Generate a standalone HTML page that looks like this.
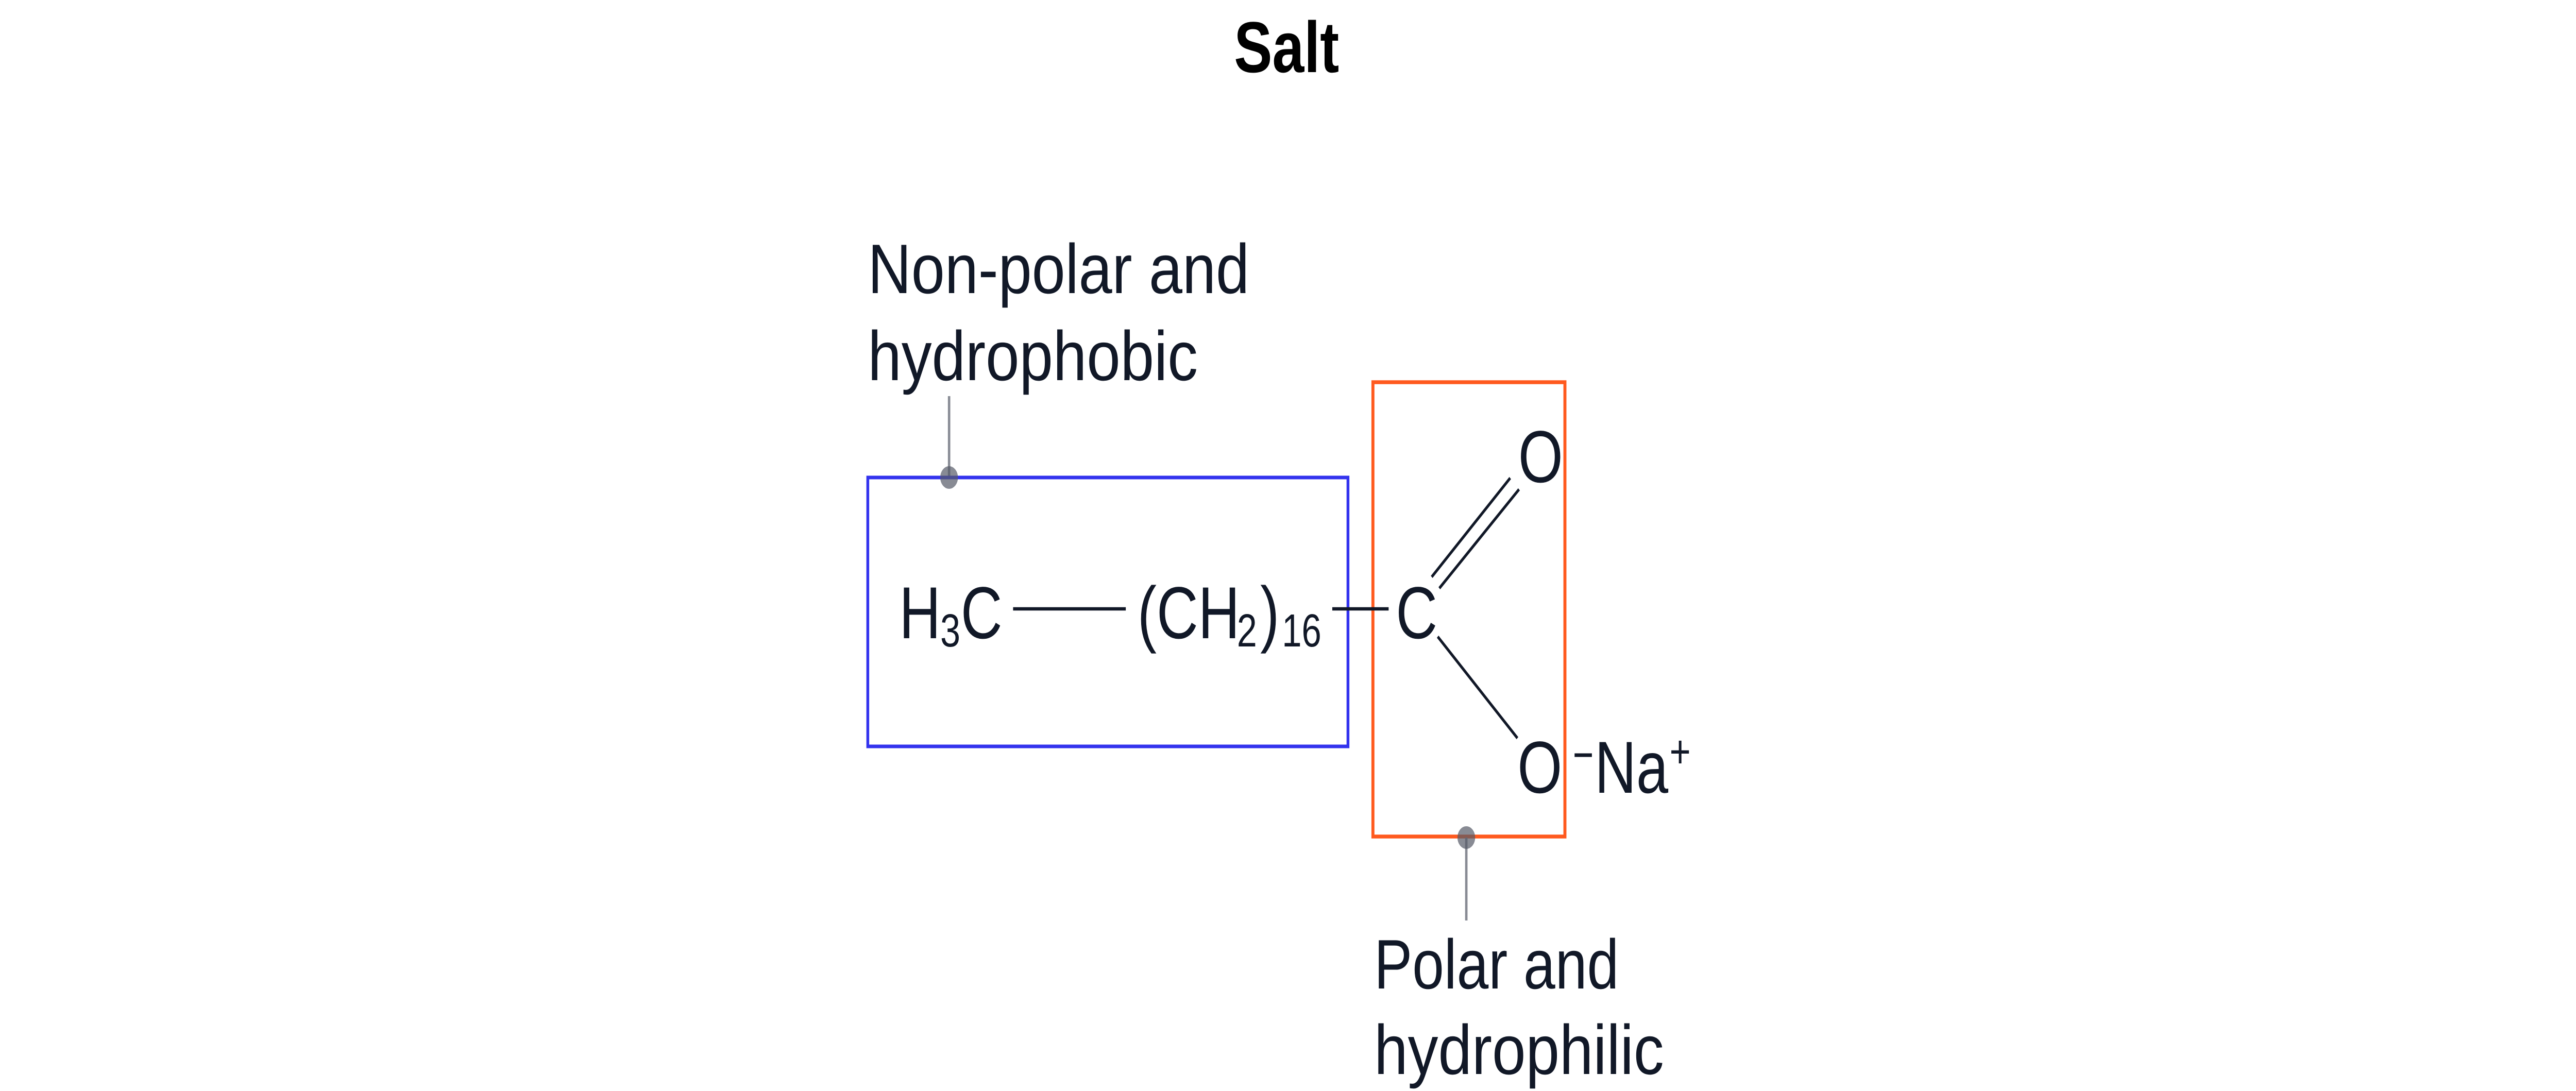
<!DOCTYPE html>
<html><head><meta charset="utf-8"><style>
html,body{margin:0;padding:0;background:#fff;width:100%;height:100%;overflow:hidden;}
svg{display:block;position:fixed;left:0;top:0;width:100%;height:100%;}
text{font-family:"Liberation Sans",Arial,sans-serif;fill:#111827;}
</style></head><body>
<svg viewBox="0 0 6400 2118" preserveAspectRatio="none" xmlns="http://www.w3.org/2000/svg">
<rect width="6400" height="2118" fill="#fff"/>
<text x="3066" y="140" font-size="140" font-weight="bold" textLength="261" lengthAdjust="spacingAndGlyphs" style="fill:#000">Salt</text>

<text x="2156" y="569" font-size="136" textLength="948" lengthAdjust="spacingAndGlyphs">Non-polar and</text>
<text x="2156" y="738" font-size="136" textLength="820" lengthAdjust="spacingAndGlyphs">hydrophobic</text>

<line x1="2358" y1="769" x2="2358" y2="927" stroke="#888b94" stroke-width="6"/>
<rect x="2156" y="927" width="1193" height="522" fill="none" stroke="#3333ee" stroke-width="7"/>
<circle cx="2358" cy="927" r="22" fill="#555a66" fill-opacity="0.7"/>

<rect x="3411" y="742" width="477" height="882" fill="none" stroke="#ff5a1f" stroke-width="7.5"/>
<line x1="3643" y1="1626" x2="3643" y2="1787" stroke="#888b94" stroke-width="6"/>
<circle cx="3643" cy="1626" r="22" fill="#555a66" fill-opacity="0.7"/>

<text x="2234" y="1239" font-size="143">H</text>
<text x="2336" y="1255" font-size="90">3</text>
<text x="2387" y="1239" font-size="143">C</text>
<line x1="2517" y1="1182" x2="2797" y2="1182" stroke="#111827" stroke-width="6.5"/>
<text x="2826" y="1239" font-size="143">(CH</text>
<text x="3073" y="1255" font-size="90">2</text>
<text x="3131" y="1239" font-size="143">)</text>
<text x="3185" y="1255" font-size="90" textLength="98" lengthAdjust="spacingAndGlyphs">16</text>
<line x1="3310" y1="1182" x2="3450" y2="1182" stroke="#111827" stroke-width="6.5"/>
<text x="3468" y="1239" font-size="143">C</text>

<line x1="3557" y1="1120" x2="3752" y2="928" stroke="#111827" stroke-width="6"/>
<line x1="3576" y1="1142" x2="3774" y2="950" stroke="#111827" stroke-width="6"/>
<text x="3772" y="936" font-size="143">O</text>

<line x1="3572" y1="1236" x2="3770" y2="1433" stroke="#111827" stroke-width="6"/>
<text x="3770" y="1539" font-size="143">O</text>
<line x1="3912" y1="1466" x2="3955" y2="1466" stroke="#111827" stroke-width="7"/>
<text x="3962" y="1539" font-size="143">Na</text>
<text x="4148" y="1490" font-size="90">+</text>

<text x="3414" y="1919" font-size="136" textLength="608" lengthAdjust="spacingAndGlyphs">Polar and</text>
<text x="3414" y="2085" font-size="136" textLength="720" lengthAdjust="spacingAndGlyphs">hydrophilic</text>
</svg>
</body></html>
